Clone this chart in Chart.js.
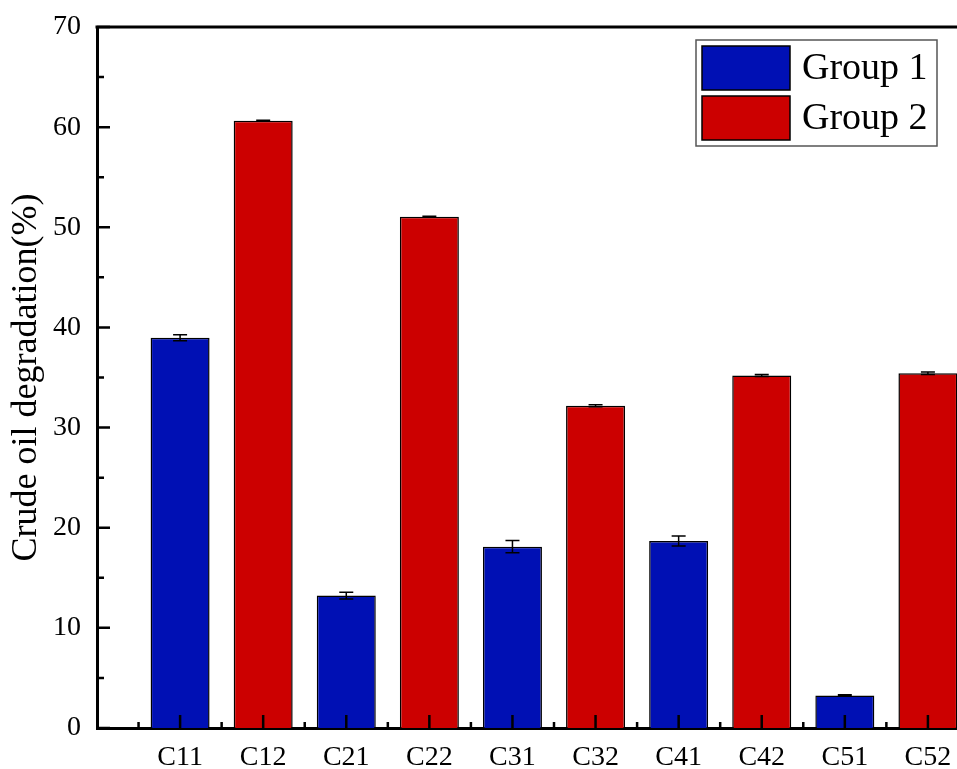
<!DOCTYPE html>
<html>
<head>
<meta charset="utf-8">
<title>Crude oil degradation</title>
<script src="https://cdn.jsdelivr.net/npm/chart.js@4/dist/chart.umd.min.js"></script>
<style>
  html, body { margin: 0; padding: 0; background: #ffffff; overflow: hidden; }
  #chart { display: block; }
</style>
</head>
<body>
<canvas id="chart" width="957" height="769"></canvas>
<script>
// Sample order along the x axis
const categories = ['C11', 'C12', 'C21', 'C22', 'C31', 'C32', 'C41', 'C42', 'C51', 'C52'];

// Group 1 samples
const group1Labels = ['C11', 'C21', 'C31', 'C41', 'C51'];
const group1Values = [38.96, 13.22, 18.11, 18.68, 3.25];
const group1Errors = [0.30, 0.33, 0.62, 0.50, 0.08];

// Group 2 samples
const group2Labels = ['C12', 'C22', 'C32', 'C42', 'C52'];
const group2Values = [60.64, 51.05, 32.17, 35.19, 35.43];
const group2Errors = [0.05, 0.05, 0.10, 0.10, 0.12];

// y axis ticks
const yTickValues = [0, 10, 20, 30, 40, 50, 60, 70];

const SERIF = '"Liberation Serif", "Times New Roman", serif';
const BLUE = '#0010b4';
const RED = '#cc0000';

function toPoints(labels, values, errors) {
  return labels.map((lab, i) => ({ x: categories.indexOf(lab) + 1, y: values[i], err: errors[i] }));
}

// Inward major/minor tick marks plus the top frame line
const axisDecor = {
  id: 'axisDecor',
  afterDatasetsDraw(chart) {
    const { ctx, chartArea: a, scales: { x, y } } = chart;
    ctx.save();
    ctx.strokeStyle = '#000';
    ctx.lineWidth = 2.5;
    ctx.beginPath();
    // y ticks (major every 10, minor every 5)
    for (let v = yTickValues[0]; v <= yTickValues[yTickValues.length - 1]; v += 5) {
      const py = y.getPixelForValue(v);
      const len = (v % 10 === 0) ? 13 : 7;
      ctx.moveTo(a.left, py);
      ctx.lineTo(a.left + len, py);
    }
    // x ticks (major at each sample, minor halfway between)
    for (let i = 0; i < categories.length; i++) {
      const pxMaj = x.getPixelForValue(i + 1);
      ctx.moveTo(pxMaj, a.bottom);
      ctx.lineTo(pxMaj, a.bottom - 13);
      const pxMin = x.getPixelForValue(i + 0.5);
      ctx.moveTo(pxMin, a.bottom);
      ctx.lineTo(pxMin, a.bottom - 6);
    }
    const lastMinor = x.getPixelForValue(categories.length + 0.5);
    if (lastMinor <= a.right) {
      ctx.moveTo(lastMinor, a.bottom);
      ctx.lineTo(lastMinor, a.bottom - 6);
    }
    ctx.stroke();
    // top frame
    ctx.lineWidth = 3;
    ctx.beginPath();
    ctx.moveTo(a.left - 1.5, a.top);
    ctx.lineTo(a.right, a.top);
    ctx.stroke();
    ctx.restore();
  }
};

// Error bars for each bar, from the data's err field
const errorBars = {
  id: 'errorBars',
  afterDatasetsDraw(chart) {
    const { ctx, scales: { y } } = chart;
    ctx.save();
    ctx.strokeStyle = '#000';
    ctx.lineWidth = 1.5;
    chart.data.datasets.forEach((ds, di) => {
      const meta = chart.getDatasetMeta(di);
      meta.data.forEach((bar, i) => {
        const p = ds.data[i];
        const top = y.getPixelForValue(p.y + p.err);
        const bot = y.getPixelForValue(p.y - p.err);
        const half = 7;
        ctx.beginPath();
        ctx.moveTo(bar.x, top);
        ctx.lineTo(bar.x, bot);
        ctx.moveTo(bar.x - half, top);
        ctx.lineTo(bar.x + half, top);
        ctx.moveTo(bar.x - half, bot);
        ctx.lineTo(bar.x + half, bot);
        ctx.stroke();
      });
    });
    ctx.restore();
  }
};

// Boxed legend in the upper right of the plot
const boxedLegend = {
  id: 'boxedLegend',
  afterDraw(chart) {
    const { ctx, chartArea: a } = chart;
    const boxW = 241, boxH = 106;
    const left = a.right - 261, top = a.top + 13;
    ctx.save();
    ctx.fillStyle = '#fff';
    ctx.fillRect(left, top, boxW, boxH);
    ctx.strokeStyle = '#555';
    ctx.lineWidth = 1.5;
    ctx.strokeRect(left, top, boxW, boxH);
    ctx.font = '38px ' + SERIF;
    ctx.textBaseline = 'middle';
    ctx.textAlign = 'left';
    chart.data.datasets.forEach((ds, i) => {
      const sx = left + 6, sy = top + 6 + i * 50, sw = 88, sh = 44;
      ctx.fillStyle = ds.backgroundColor;
      ctx.fillRect(sx, sy, sw, sh);
      ctx.strokeStyle = '#000';
      ctx.lineWidth = 1.5;
      ctx.strokeRect(sx, sy, sw, sh);
      ctx.fillStyle = '#000';
      ctx.fillText(ds.label, sx + sw + 12, sy + sh / 2 + 1);
    });
    ctx.restore();
  }
};

new Chart(document.getElementById('chart'), {
  type: 'bar',
  data: {
    datasets: [
      {
        label: 'Group 1',
        data: toPoints(group1Labels, group1Values, group1Errors),
        backgroundColor: BLUE,
        borderColor: '#000',
        borderWidth: 1.5,
        grouped: false
      },
      {
        label: 'Group 2',
        data: toPoints(group2Labels, group2Values, group2Errors),
        backgroundColor: RED,
        borderColor: '#000',
        borderWidth: 1.5,
        grouped: false
      }
    ]
  },
  options: {
    responsive: false,
    animation: false,
    events: [],
    barPercentage: 0.71,
    categoryPercentage: 1,
    layout: { padding: { top: 27, right: 0, bottom: 0, left: 0 } },
    plugins: {
      legend: { display: false },
      tooltip: { enabled: false }
    },
    scales: {
      x: {
        type: 'linear',
        min: 0,
        max: 10.35,
        offset: false,
        z: 1,
        grid: { display: false, drawTicks: false },
        border: { display: true, color: '#000', width: 3 },
        afterBuildTicks(scale) {
          scale.ticks = categories.map((_, i) => ({ value: i + 1 }));
        },
        afterFit(scale) {
          scale.height = 41;
          scale.paddingLeft = 0;
          scale.paddingRight = 0;
        },
        ticks: {
          padding: 13,
          autoSkip: false,
          maxRotation: 0,
          color: '#000',
          font: { family: SERIF, size: 28 },
          callback: (v) => categories[v - 1] ?? ''
        }
      },
      y: {
        min: 0,
        max: 70,
        grid: { display: false, drawTicks: false },
        border: { display: true, color: '#000', width: 3 },
        afterBuildTicks(scale) {
          scale.ticks = yTickValues.map(v => ({ value: v }));
        },
        afterFit(scale) {
          scale.width = 97;
          scale.paddingTop = 0;
          scale.paddingBottom = 0;
        },
        ticks: {
          padding: 16,
          color: '#000',
          font: { family: SERIF, size: 28 }
        },
        title: {
          display: true,
          text: 'Crude oil degradation(%)',
          color: '#000',
          font: { family: SERIF, size: 36 },
          padding: { top: 5, bottom: 0 }
        }
      }
    }
  },
  plugins: [axisDecor, errorBars, boxedLegend]
});
</script>
</body>
</html>
